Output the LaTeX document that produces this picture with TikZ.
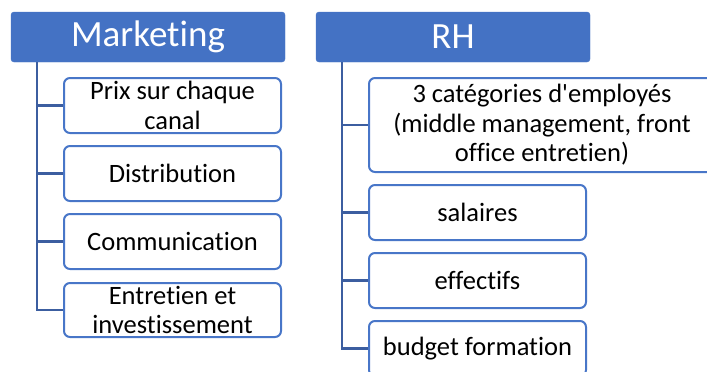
\documentclass[tikz,border=0pt]{standalone}
\usepackage{fontspec}
\setmainfont{Carlito}[Ligatures={NoCommon,TeXOff}]
\definecolor{hdrblue}{RGB}{68,114,196}
\definecolor{boxblue}{RGB}{72,118,200}
\definecolor{linkblue}{RGB}{60,94,160}
\tikzset{
  header/.style={draw=hdrblue, fill=hdrblue, rounded corners=3pt, text=white,
    minimum width=274pt, minimum height=50pt, inner sep=0pt,
    font=\fontsize{37}{44}\selectfont},
  child/.style={draw=boxblue, line width=2pt, fill=white, rounded corners=6pt,
    minimum width=217pt, minimum height=55pt, inner sep=0pt, align=center,
    font=\fontsize{26.5}{29.5}\selectfont},
  link/.style={draw=linkblue, line width=2.5pt}
}
\begin{document}
\begin{tikzpicture}[x=1pt,y=-1pt]
\useasboundingbox (0,0) rectangle (707,372);
\clip (0,0) rectangle (707,372);
% Marketing column
\node[header] (mh) at (148,37) {Marketing};
\node[child] (m1) at (172.5,105.5) {Prix sur chaque\\canal};
\node[child] (m2) at (172.5,173.5) {Distribution};
\node[child] (m3) at (172.5,241.5) {Communication};
\node[child, minimum height=54pt] (m4) at (172.5,310) {Entretien et\\investissement};
\coordinate (ms) at ([xshift=26pt]mh.south west);
\draw[link] (ms) |- (m4.west);
\draw[link] (ms |- m1.west) -- (m1.west);
\draw[link] (ms |- m2.west) -- (m2.west);
\draw[link] (ms |- m3.west) -- (m3.west);
% RH column
\node[header] (rh) at (453,37) {RH};
\node[child, minimum width=346pt, minimum height=94pt] (r1) at (542,125) {3 catégories d'employés\\(middle management, front\\office entretien)};
\node[child] (r2) at (477.5,212.5) {salaires};
\node[child] (r3) at (477.5,280.5) {effectifs};
\node[child] (r4) at (477.5,348.5) {budget formation};
\coordinate (rs) at ([xshift=26pt]rh.south west);
\draw[link] (rs) |- (r4.west);
\draw[link] (rs |- r1.west) -- (r1.west);
\draw[link] (rs |- r2.west) -- (r2.west);
\draw[link] (rs |- r3.west) -- (r3.west);
\end{tikzpicture}
\end{document}
